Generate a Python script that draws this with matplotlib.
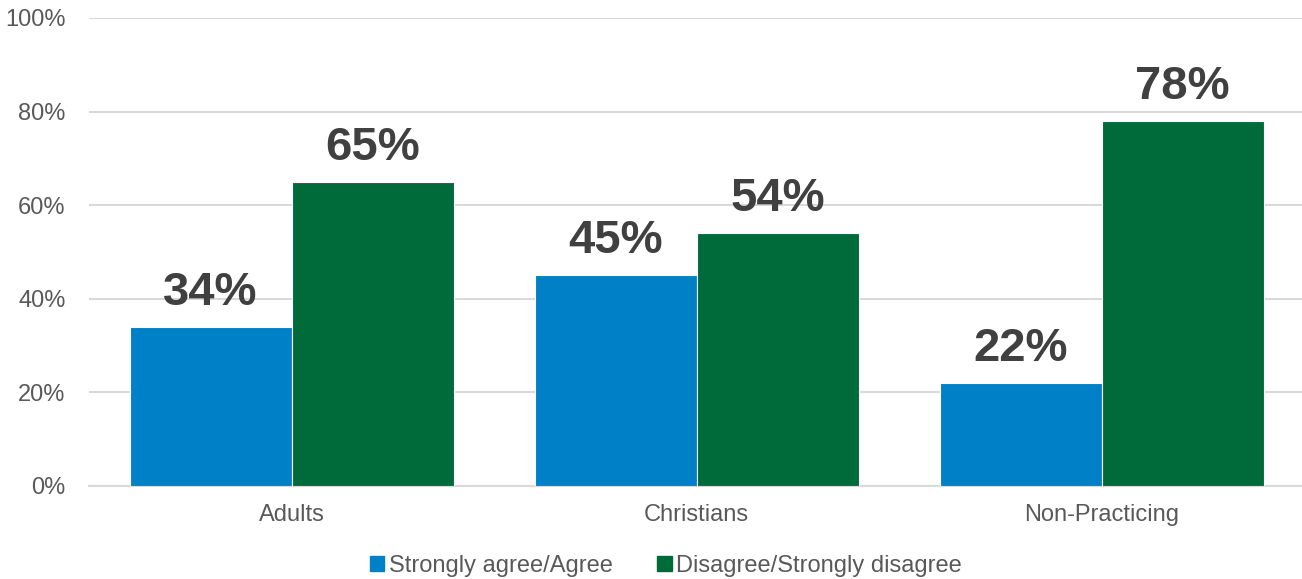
import matplotlib.pyplot as plt
import numpy as np
from matplotlib.patches import Patch

plt.rcParams['font.family'] = ['Liberation Sans', 'DejaVu Sans']

# Datos
categorias = ["Adults", "Christians", "Non-Practicing"]
de_acuerdo = [34, 45, 22]
en_desacuerdo = [65, 54, 78]
series = ["Strongly agree/Agree", "Disagree/Strongly disagree"]

azul = "#0080C6"
verde = "#006B3A"

fig = plt.figure(figsize=(13.02, 5.79), dpi=100)
ax = fig.add_axes([89 / 1302, 1 - 486 / 579, 1215 / 1302, 468 / 579])

x = np.arange(len(categorias))
ancho = 0.4
b1 = ax.bar(x - ancho / 2, de_acuerdo, ancho, color=azul, edgecolor="white", linewidth=0.8, zorder=3)
b2 = ax.bar(x + ancho / 2, en_desacuerdo, ancho, color=verde, edgecolor="white", linewidth=0.8, zorder=3)

# Etiquetas de datos
for barras, valores in [(b1, de_acuerdo), (b2, en_desacuerdo)]:
    for barra, v in zip(barras, valores):
        ax.annotate(f"{v}%", (barra.get_x() + barra.get_width() / 2, v),
                    xytext=(0, 16), textcoords="offset points",
                    ha="center", va="baseline", fontsize=34, fontweight="bold",
                    color="#404040")

ax.set_xlim(-0.5, 2.5)
ax.set_ylim(0, 100)
ax.set_yticks(range(0, 101, 20))
ax.set_yticklabels([f"{t}%" for t in range(0, 101, 20)])
ax.set_xticks(x)
ax.set_xticklabels(categorias)
ax.tick_params(axis="both", length=0, labelsize=17, colors="#595959")
ax.tick_params(axis="y", pad=17)
ax.tick_params(axis="x", pad=13)
ax.yaxis.grid(True, color="#D9D9D9", linewidth=1.5, zorder=0)
for lado in ["top", "right", "left"]:
    ax.spines[lado].set_visible(False)
ax.spines["bottom"].set_color("#D9D9D9")
ax.spines["bottom"].set_linewidth(1.5)

# Leyenda
manejadores = [Patch(color=azul), Patch(color=verde)]
ax.legend(manejadores, series, loc="center", bbox_to_anchor=(666 / 1302, 1 - 566 / 579),
          bbox_transform=fig.transFigure, ncol=2, frameon=False, fontsize=17,
          handlelength=0.6, handleheight=0.6, handletextpad=0.2, columnspacing=1.9,
          labelcolor="#595959")

plt.savefig("out.png", dpi=100)
